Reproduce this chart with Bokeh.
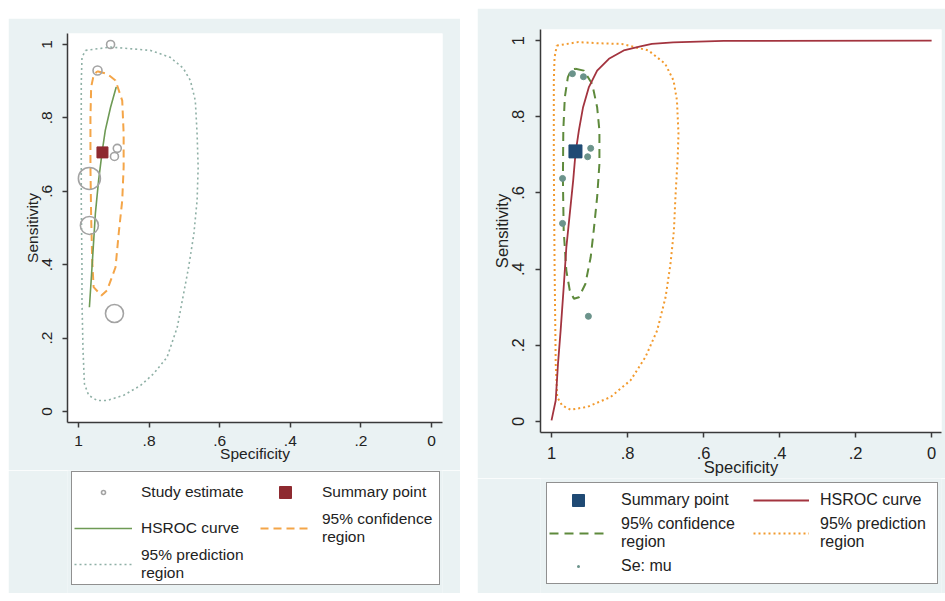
from bokeh.plotting import figure
from bokeh.models import Range1d, FixedTicker, Legend, LegendItem, Spacer
from bokeh.layouts import row, column
from bokeh.embed import file_html
from bokeh.resources import INLINE

# ---------------- Left panel data ----------------
l_study_spec = [0.909, 0.946, 0.890, 0.898, 0.969, 0.969, 0.898]
l_study_sens = [1.000, 0.929, 0.717, 0.695, 0.635, 0.507, 0.267]
l_study_weight = [8, 9, 8, 8, 22, 18, 18]

l_summary_spec = [0.932]
l_summary_sens = [0.706]

l_hsroc_spec = [0.893, 0.909, 0.924, 0.933, 0.943, 0.952, 0.958, 0.964, 0.969]
l_hsroc_sens = [0.884, 0.829, 0.766, 0.707, 0.629, 0.540, 0.448, 0.357, 0.284]

l_conf_spec = [0.947, 0.919, 0.895, 0.876, 0.872, 0.872, 0.876, 0.886, 0.895, 0.919,
               0.935, 0.957, 0.961, 0.964, 0.966, 0.966, 0.964, 0.957, 0.947]
l_conf_sens = [0.927, 0.920, 0.902, 0.847, 0.757, 0.666, 0.575, 0.485, 0.393, 0.330,
               0.316, 0.339, 0.411, 0.529, 0.666, 0.802, 0.884, 0.916, 0.927]

l_pred_spec = [0.980, 0.909, 0.796, 0.740, 0.703, 0.683, 0.669, 0.664, 0.661, 0.664,
               0.673, 0.688, 0.702, 0.706, 0.720, 0.749, 0.787, 0.824, 0.872, 0.919,
               0.947, 0.971, 0.983, 0.987, 0.990, 0.990, 0.992, 0.992, 0.992, 0.990,
               0.980]
l_pred_sens = [0.984, 0.993, 0.984, 0.965, 0.935, 0.902, 0.847, 0.757, 0.666, 0.575,
               0.485, 0.393, 0.322, 0.302, 0.230, 0.148, 0.103, 0.071, 0.044, 0.030,
               0.030, 0.044, 0.075, 0.166, 0.302, 0.393, 0.575, 0.757, 0.894, 0.965,
               0.984]

# ---------------- Right panel data ----------------
r_mu_spec = [0.945, 0.916, 0.897, 0.905, 0.971, 0.971, 0.903]
r_mu_sens = [0.913, 0.905, 0.717, 0.695, 0.638, 0.520, 0.276]

r_summary_spec = [0.937]
r_summary_sens = [0.709]

r_hsroc_spec = [1.000, 0.989, 0.983, 0.976, 0.968, 0.961, 0.952, 0.943, 0.937, 0.928,
                0.917, 0.902, 0.880, 0.849, 0.810, 0.766, 0.736, 0.680, 0.547, 0.000]
r_hsroc_sens = [0.003, 0.055, 0.151, 0.239, 0.352, 0.457, 0.545, 0.633, 0.703, 0.764,
                0.825, 0.877, 0.921, 0.952, 0.974, 0.985, 0.991, 0.995, 0.999, 1.000]

r_conf_spec = [0.937, 0.915, 0.893, 0.880, 0.874, 0.874, 0.880, 0.889, 0.897, 0.911,
               0.928, 0.941, 0.952, 0.961, 0.968, 0.970, 0.969, 0.965, 0.957, 0.948, 0.937]
r_conf_sens = [0.926, 0.921, 0.886, 0.825, 0.764, 0.676, 0.589, 0.501, 0.431, 0.361,
               0.326, 0.322, 0.344, 0.396, 0.501, 0.633, 0.764, 0.851, 0.904, 0.923, 0.926]

r_pred_spec = [0.986, 0.929, 0.880, 0.815, 0.745, 0.701, 0.679, 0.670, 0.666, 0.668,
               0.674, 0.678, 0.687, 0.700, 0.722, 0.753, 0.792, 0.845, 0.906, 0.950,
               0.972, 0.985, 0.989, 0.992, 0.994, 0.994, 0.992, 0.986]
r_pred_sens = [0.987, 0.996, 0.993, 0.991, 0.974, 0.939, 0.895, 0.843, 0.755, 0.694,
               0.589, 0.501, 0.414, 0.326, 0.239, 0.169, 0.108, 0.064, 0.038, 0.031,
               0.042, 0.064, 0.151, 0.414, 0.676, 0.895, 0.956, 0.987]

tick_vals = [0, 0.2, 0.4, 0.6, 0.8, 1.0]
tick_text = ["0", ".2", ".4", ".6", ".8", "1"]

BG = "#eaf2f3"
FONT = "Liberation Sans"
TXT = "#222222"

# styles
ST_STUDY = dict(marker="circle", fill_color=None, line_color="#a3a3a3", line_width=1.6)
ST_SUM_L = dict(marker="square", fill_color="#8e2a30", line_color="#8e2a30")
ST_HS_L = dict(line_color="#6e9a55", line_width=1.6)
ST_CONF_L = dict(line_color="#f4a548", line_width=2, line_dash="8 5")
ST_PRED_L = dict(line_color="#8fb0a6", line_width=1.6, line_dash="2 3")
ST_MU = dict(marker="circle", fill_color="#6b938b", line_color="#6b938b")
ST_MU_KEY = dict(marker="dot", fill_color="#6b938b", line_color="#6b938b", line_width=4)
ST_SUM_R = dict(marker="square", fill_color="#1f4a74", line_color="#1f4a74")
ST_HS_R = dict(line_color="#a3343f", line_width=1.8)
ST_CONF_R = dict(line_color="#5e8a3c", line_width=2, line_dash="9 6")
ST_PRED_R = dict(line_color="#f29a2e", line_width=2, line_dash="2 3")


def make_fig(width, height, xr, yr, borders, fsize, ystand, xstand):
    bl, br, bt, bb = borders
    p = figure(width=width, height=height, x_range=Range1d(*xr), y_range=Range1d(*yr),
               output_backend="svg", toolbar_location=None,
               min_border_left=bl, min_border_right=br, min_border_top=bt,
               min_border_bottom=bb)
    p.background_fill_color = "white"
    p.border_fill_color = BG
    p.outline_line_color = None
    p.grid.visible = False
    for ax in (p.xaxis[0], p.yaxis[0]):
        ax.ticker = FixedTicker(ticks=tick_vals)
        ax.major_label_overrides = {v: t for v, t in zip(tick_vals, tick_text)}
        ax.axis_line_color = "#3a3a3a"
        ax.axis_line_width = 1.5
        ax.major_tick_line_color = "#3a3a3a"
        ax.major_tick_line_width = 1.5
        ax.major_tick_out = 5
        ax.major_tick_in = 0
        ax.minor_tick_line_color = None
        ax.major_label_text_font = FONT
        ax.major_label_text_font_size = fsize
        ax.major_label_text_color = TXT
        ax.axis_label_text_font = FONT
        ax.axis_label_text_font_size = fsize
        ax.axis_label_text_font_style = "normal"
        ax.axis_label_text_color = TXT
    p.xaxis.axis_label = "Specificity"
    p.yaxis.axis_label = "Sensitivity"
    p.yaxis.major_label_orientation = "vertical"
    p.xaxis.major_label_standoff = xstand
    p.yaxis.major_label_standoff = ystand
    p.xaxis.axis_label_standoff = -4
    p.yaxis.axis_label_standoff = -1
    return p


def legend_fig(width, height, bl, br):
    # legend strip: same frame alignment as the plot above; its ranges keep
    # the proxy data out of view, so only the legend shows
    f = figure(width=width, height=height, x_range=Range1d(5, 6), y_range=Range1d(5, 6),
               output_backend="svg", toolbar_location=None,
               x_axis_location=None, y_axis_location=None,
               min_border_left=bl, min_border_right=br, min_border_top=0,
               min_border_bottom=0)
    f.background_fill_color = BG
    f.border_fill_color = BG
    f.outline_line_color = None
    f.grid.visible = False
    return f


def make_legend(items, loc, fsize, glyph_w, glyph_h, label_w, label_h, standoff,
                padding, boxed, lh):
    lg = Legend(items=items, location=loc)
    lg.label_text_font = FONT
    lg.label_text_font_size = fsize
    lg.label_text_color = TXT
    lg.label_text_line_height = lh
    lg.glyph_width = glyph_w
    lg.glyph_height = glyph_h
    lg.label_width = label_w
    lg.label_height = label_h
    lg.label_standoff = standoff
    lg.spacing = 0
    lg.padding = padding
    lg.margin = 0
    if boxed:
        lg.border_line_color = "#222222"
        lg.border_line_width = 1.5
        lg.background_fill_color = "white"
        lg.background_fill_alpha = 1
    else:
        lg.border_line_color = None
        lg.background_fill_alpha = 0
    return lg


# ---------------- Left figure ----------------
p1 = make_fig(452, 452, (1.031, -0.031), (-0.030, 1.030), (59, 18, 15, 48), "15.5px", 10, 8)
p1.line(l_pred_spec, l_pred_sens, **ST_PRED_L)
p1.line(l_conf_spec, l_conf_sens, **ST_CONF_L)
p1.line(l_hsroc_spec, l_hsroc_sens, **ST_HS_L)
p1.scatter(l_study_spec, l_study_sens, size=l_study_weight, **ST_STUDY)
p1.scatter(l_summary_spec, l_summary_sens, size=11, **ST_SUM_L)

lf1 = legend_fig(452, 123, 59, 18)
k_st = lf1.scatter(l_study_spec, l_study_sens, size=4, **ST_STUDY)
k_sum = lf1.scatter(l_summary_spec, l_summary_sens, size=11, **ST_SUM_L)
k_hs = lf1.line(l_hsroc_spec, l_hsroc_sens, **ST_HS_L)
k_conf = lf1.line(l_conf_spec, l_conf_sens, **ST_CONF_L)
k_pred = lf1.line(l_pred_spec, l_pred_sens, **ST_PRED_L)
lf1.add_layout(make_legend([
    LegendItem(label="Study estimate", renderers=[k_st]),
    LegendItem(label="HSROC curve", renderers=[k_hs]),
    LegendItem(label="95% prediction\nregion", renderers=[k_pred]),
], (4, 8), "15.5px", 58, 10, 296, 36, 9, 2, True, 1.0))
lf1.add_layout(make_legend([
    LegendItem(label="Summary point", renderers=[k_sum]),
    LegendItem(label="95% confidence\nregion", renderers=[k_conf]),
], (193, 47), "15.5px", 50, 30, 100, 36, 12, 2, False, 1.0))

# ---------------- Right figure ----------------
p2 = make_fig(468, 470, (1.029, -0.026), (-0.029, 1.029), (63, 4, 21, 46), "16.5px", 11, 9)
p2.line(r_pred_spec, r_pred_sens, **ST_PRED_R)
p2.line(r_conf_spec, r_conf_sens, **ST_CONF_R)
p2.line(r_hsroc_spec, r_hsroc_sens, **ST_HS_R)
p2.scatter(r_mu_spec, r_mu_sens, size=6, **ST_MU)
p2.scatter(r_summary_spec, r_summary_sens, size=13, **ST_SUM_R)

lf2 = legend_fig(468, 115, 63, 4)
q_mu = lf2.scatter(r_mu_spec, r_mu_sens, size=5, **ST_MU_KEY)
q_sum = lf2.scatter(r_summary_spec, r_summary_sens, size=12, **ST_SUM_R)
q_hs = lf2.line(r_hsroc_spec, r_hsroc_sens, **ST_HS_R)
q_conf = lf2.line(r_conf_spec, r_conf_sens, **ST_CONF_R)
q_pred = lf2.line(r_pred_spec, r_pred_sens, **ST_PRED_R)
lf2.add_layout(make_legend([
    LegendItem(label="Summary point", renderers=[q_sum]),
    LegendItem(label="95% confidence\nregion", renderers=[q_conf]),
    LegendItem(label="Se: mu", renderers=[q_mu]),
], (6, 9), "16px", 58, 30, 314, 30, 14, 2, True, 0.95))
lf2.add_layout(make_legend([
    LegendItem(label="HSROC curve", renderers=[q_hs]),
    LegendItem(label="95% prediction\nregion", renderers=[q_pred]),
], (213, 42), "16px", 56, 30, 100, 30, 11, 2, False, 0.95))

layout = column(Spacer(height=8),
                row(Spacer(width=8),
                    column(Spacer(height=10), p1, lf1),
                    Spacer(width=17),
                    column(p2, lf2)))

open("out.html", "w").write(file_html(layout, INLINE))
